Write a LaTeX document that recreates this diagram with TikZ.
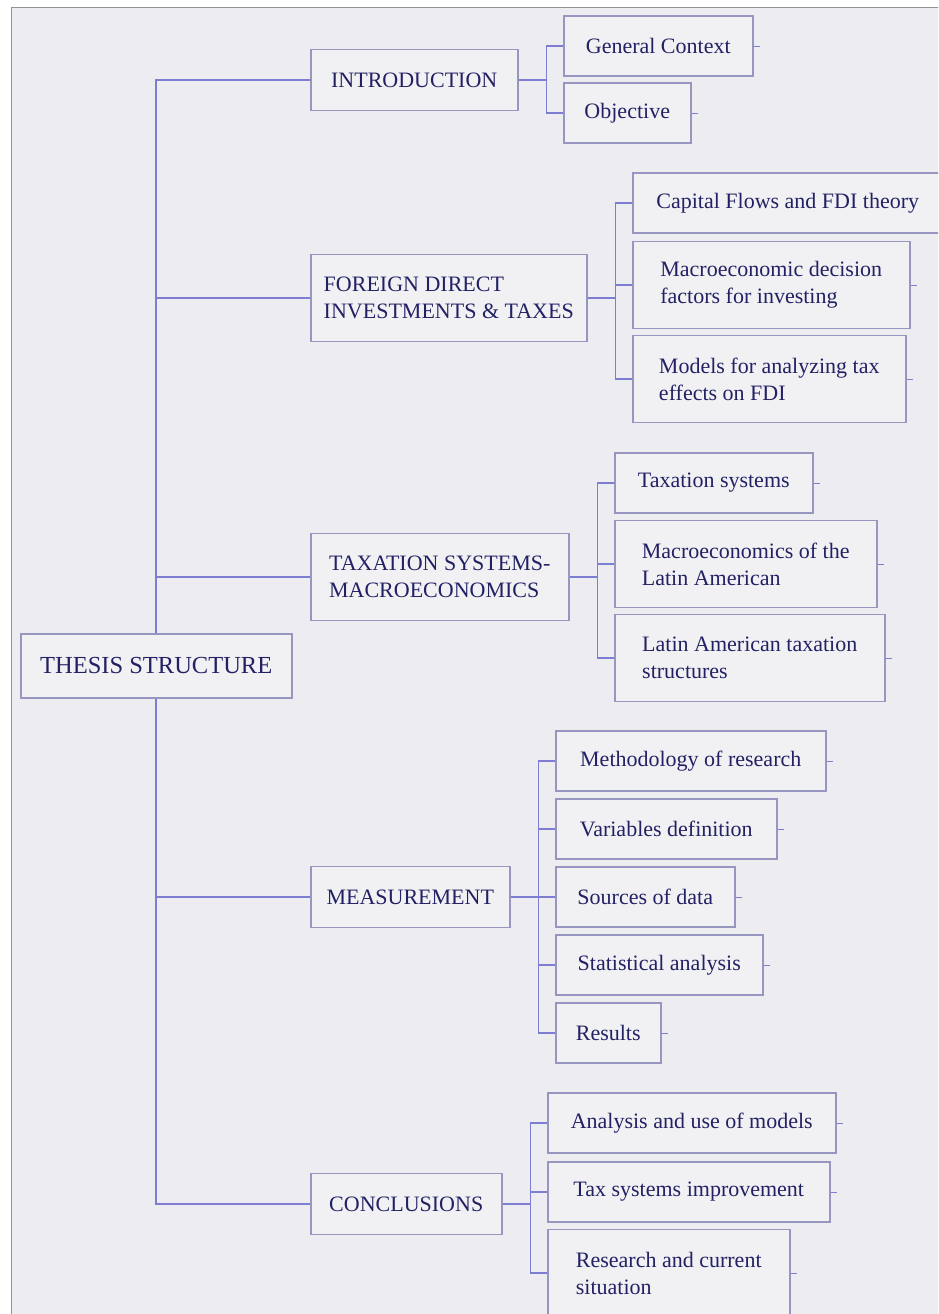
\documentclass[tikz,border=0pt]{standalone}
\usepackage{fontspec}
\setmainfont{Liberation Serif}
\definecolor{paper}{RGB}{237,237,241}
\definecolor{boxfill}{RGB}{241,241,244}
\definecolor{boxline}{RGB}{150,150,192}
\definecolor{linkblue}{RGB}{125,125,210}
\definecolor{inkblue}{RGB}{34,33,100}
\begin{document}
\begin{tikzpicture}[x=1pt, y=-1pt, every node/.style = {text=inkblue, font=\fontsize{22}{27}\selectfont}, box/.style = {shape=rectangle, draw=boxline, fill=boxfill, line width=1.5pt, align=left, anchor=west, inner sep=4pt}, link/.style = {draw=linkblue, line width=1.6pt}]
	\tikzstyle{root} = [box, minimum height=64, font=\fontsize{24.5}{30}\selectfont]
	\tikzstyle{part} = [box, minimum height=61]
	\tikzstyle{leaf} = [box, minimum height=60]
	\tikzstyle{tall} = [box, minimum height=87]
	\useasboundingbox (0,0) rectangle (938,1314);
	\clip (0,0) rectangle (938,1314);
	\filldraw[fill=paper, draw=gray!85, line width=1pt] (11,8) rectangle (960,1340);
	\node[root, minimum width=271] (root) at (20,666) {THESIS STRUCTURE};
	\node[part, minimum width=207] (intro) at (310,80) {INTRODUCTION};
	\node[tall, minimum width=276] (fdi) at (310,298) {FOREIGN DIRECT\\INVESTMENTS \& TAXES};
	\node[tall, minimum width=258] (taxsys) at (310,577) {TAXATION SYSTEMS-\\MACROECONOMICS};
	\node[part, minimum width=199] (meas) at (310,897) {MEASUREMENT};
	\node[part, minimum width=191] (concl) at (310,1204) {CONCLUSIONS};
	\node[leaf, minimum width=189] (context) at (563,46) {General Context};
	\node[leaf, minimum width=127] (objective) at (563,113) {Objective};
	\node[leaf, minimum width=310] (capital) at (632,203) {Capital Flows and FDI theory};
	\node[tall, minimum width=277] (decision) at (632,285) {Macroeconomic decision\\factors for investing};
	\node[tall, minimum width=273] (models) at (632,379) {Models for analyzing tax\\effects on FDI};
	\node[leaf, minimum width=198] (taxation) at (614,483) {Taxation systems};
	\node[tall, minimum width=262] (macro) at (614,564) {Macroeconomics of the\\Latin American};
	\node[tall, minimum width=270] (latin) at (614,658) {Latin American taxation\\structures};
	\node[leaf, minimum width=270] (method) at (555,761) {Methodology of research};
	\node[leaf, minimum width=221] (variables) at (555,829) {Variables definition};
	\node[leaf, minimum width=179] (sources) at (555,897) {Sources of data};
	\node[leaf, minimum width=207] (stats) at (555,965) {Statistical analysis};
	\node[leaf, minimum width=105] (results) at (555,1033) {Results};
	\node[leaf, minimum width=288] (analysis) at (547,1123) {Analysis and use of models};
	\node[leaf, minimum width=282] (improve) at (547,1192) {Tax systems improvement};
	\node[tall, minimum width=242] (research) at (547,1273) {Research and current\\situation};
	\foreach \p in {intro,fdi,taxsys}
		\draw[link] (\p.west) -| (root.north);
	\foreach \p in {meas,concl}
		\draw[link] (\p.west) -| (root.south);
	\foreach \p in {intro,fdi,taxsys,meas,concl}
		\path (\p.east) ++(28,0) coordinate (\p-j);
	\foreach \p/\c in {intro/context, intro/objective, fdi/capital, fdi/decision, fdi/models, taxsys/taxation, taxsys/macro, taxsys/latin, meas/method, meas/variables, meas/sources, meas/stats, meas/results, concl/analysis, concl/improve, concl/research}
		\draw[link] (\p.east) -- (\p-j) |- (\c.west);
	\foreach \c in {context, objective, capital, decision, models, taxation, macro, latin, method, variables, sources, stats, results, analysis, improve, research}
		\draw[link, line width=0.8pt] (\c.east) -- ++(6,0);
\end{tikzpicture}
\end{document}
